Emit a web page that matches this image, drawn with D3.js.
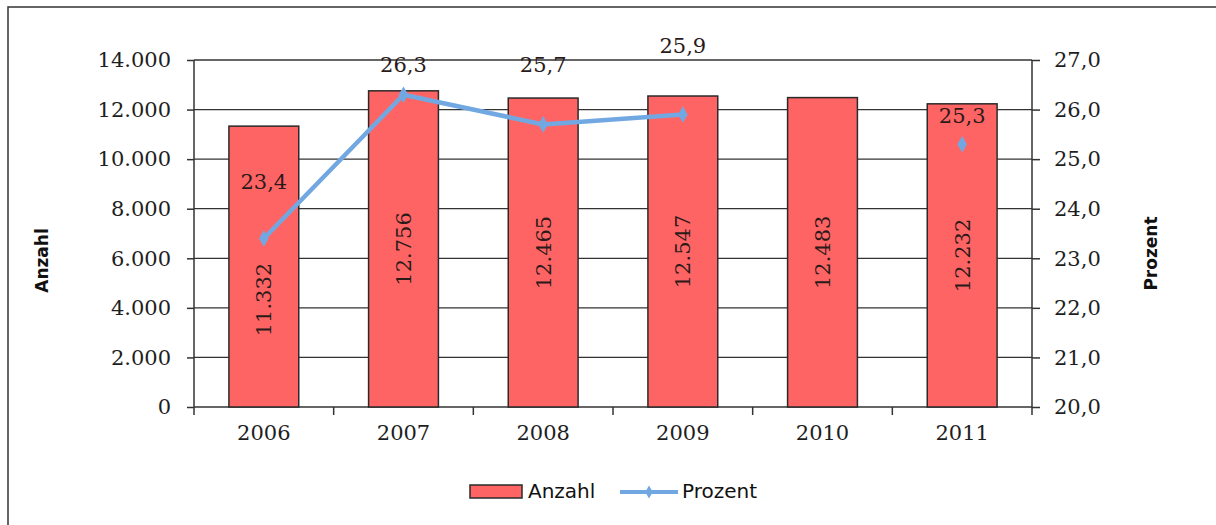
<!DOCTYPE html>
<html><head><meta charset="utf-8">
<script src="https://cdn.jsdelivr.net/npm/d3@7"></script>
<style>
html,body{margin:0;padding:0;background:#fff;}
svg{display:block;}
</style></head>
<body>
<svg id="chart" width="1216" height="525"></svg>
<script>
const years = ["2006","2007","2008","2009","2010","2011"];
const anzahl = [11332, 12756, 12465, 12547, 12483, 12232];
const prozent = [23.4, 26.3, 25.7, 25.9, null, 25.3];
const leftTicks = [0, 2000, 4000, 6000, 8000, 10000, 12000, 14000];
const rightTicks = [20, 21, 22, 23, 24, 25, 26, 27];
// label layout offsets (pixels) for the bar and percent labels
const barLabelShift = [33, 0, 0, 0, 0, 0];
const pctLabelShift = [-57, -30, -60, -69, 0, -29];

const svg = d3.select("#chart");
const W = 1216, H = 525;
const plot = {left: 194, right: 1032, top: 60, bottom: 407};
const serif = "'DejaVu Serif', serif";
const sans = "'DejaVu Sans', sans-serif";
const ink = "#1e1e1e";

// outer frame
svg.append("path").attr("d", `M8,${H} L8,7 L${W},7`).attr("fill","none").attr("stroke","#333").attr("stroke-width",1.5);

const x = d3.scaleBand().domain(years).range([plot.left, plot.right]).paddingInner(0).paddingOuter(0);
const y = d3.scaleLinear().domain([0, 14000]).range([plot.bottom, plot.top]);
const y2 = d3.scaleLinear().domain([20, 27]).range([plot.bottom, plot.top]);

// gridlines
svg.append("g").selectAll("line").data(leftTicks).join("line")
  .attr("x1", plot.left).attr("x2", plot.right)
  .attr("y1", d => y(d)).attr("y2", d => y(d))
  .attr("stroke", "#333").attr("stroke-width", 1.3);

// bars
const bw = x.bandwidth() * 0.5;
svg.append("g").selectAll("rect").data(anzahl).join("rect")
  .attr("x", (d,i) => x(years[i]) + (x.bandwidth() - bw)/2)
  .attr("y", d => y(d))
  .attr("width", bw)
  .attr("height", d => y(0) - y(d))
  .attr("fill", "#ff6464").attr("stroke", "#2a2a2a").attr("stroke-width", 1.5);

// left axis
const fmtDot = d => d3.format(",")(d).replace(/,/g, ".");
const gL = svg.append("g").attr("transform", `translate(${plot.left},0)`)
  .call(d3.axisLeft(y).tickValues(leftTicks).tickFormat(fmtDot).tickSize(7).tickPadding(16));
gL.select(".domain").remove();
gL.append("line").attr("x1",0).attr("x2",0).attr("y1",plot.top).attr("y2",plot.bottom).attr("stroke","#333").attr("stroke-width",1.5);
gL.selectAll(".tick line").attr("stroke","#333").attr("stroke-width",1.5);
gL.selectAll(".tick text").attr("font-family", serif).attr("font-size", 21).attr("fill", ink);

// right axis
const fmtComma = d => d3.format(".1f")(d).replace(".", ",");
const gR = svg.append("g").attr("transform", `translate(${plot.right},0)`)
  .call(d3.axisRight(y2).tickValues(rightTicks).tickFormat(fmtComma).tickSize(8).tickPadding(14));
gR.select(".domain").remove();
gR.append("line").attr("x1",0).attr("x2",0).attr("y1",plot.top).attr("y2",plot.bottom).attr("stroke","#333").attr("stroke-width",1.5);
gR.selectAll(".tick line").attr("stroke","#333").attr("stroke-width",1.5);
gR.selectAll(".tick text").attr("font-family", serif).attr("font-size", 21).attr("fill", ink);

// x axis
const gX = svg.append("g").attr("transform", `translate(0,${plot.bottom})`)
  .call(d3.axisBottom(x).tickSize(0).tickPadding(18));
gX.select(".domain").remove();
gX.selectAll(".tick text").attr("font-family", serif).attr("font-size", 21).attr("fill", ink);
const bounds = years.map(d => x(d)).concat([x.range()[1]]);
svg.append("g").selectAll("line").data(bounds).join("line")
  .attr("x1", d => d).attr("x2", d => d)
  .attr("y1", plot.bottom).attr("y2", plot.bottom + 8)
  .attr("stroke", "#333").attr("stroke-width", 1.5);

// bar value labels (rotated)
svg.append("g").selectAll("text").data(anzahl).join("text")
  .attr("transform", (d,i) => {
    const cx = x(years[i]) + x.bandwidth()/2;
    const cy = (y(d) + y(0))/2 + barLabelShift[i];
    return `translate(${cx},${cy}) rotate(-90)`;
  })
  .attr("text-anchor", "middle").attr("dy", "0.35em")
  .attr("font-family", serif).attr("font-size", 21).attr("fill", "#2a1a1a")
  .text(d => fmtDot(d));

// percent line
const lineColor = "#72a8e2";
const line = d3.line()
  .defined(d => d != null)
  .x((d,i) => x(years[i]) + x.bandwidth()/2)
  .y(d => y2(d));
svg.append("path").datum(prozent).attr("d", line)
  .attr("fill", "none").attr("stroke", lineColor).attr("stroke-width", 4.5).attr("stroke-linejoin", "round");
const pts = prozent.map((d,i) => ({v:d, i})).filter(p => p.v != null);
svg.append("g").selectAll("path").data(pts).join("path")
  .attr("transform", p => `translate(${x(years[p.i]) + x.bandwidth()/2},${y2(p.v)})`)
  .attr("d", d3.symbol(d3.symbolDiamond, 80))
  .attr("fill", lineColor);

// percent labels
svg.append("g").selectAll("text").data(pts).join("text")
  .attr("x", p => x(years[p.i]) + x.bandwidth()/2)
  .attr("y", p => y2(p.v) + pctLabelShift[p.i])
  .attr("text-anchor", "middle").attr("dy", "0.35em")
  .attr("font-family", serif).attr("font-size", 21).attr("fill", "#2a1a1a")
  .text(p => fmtComma(p.v));

// axis titles
svg.append("text").attr("transform", `translate(48,${(plot.top+plot.bottom)/2 + 27}) rotate(-90)`)
  .attr("text-anchor","middle").attr("font-family", sans).attr("font-weight","bold").attr("font-size",17).attr("fill","#111")
  .text("Anzahl");
svg.append("text").attr("transform", `translate(1157,${(plot.top+plot.bottom)/2 + 20}) rotate(-90)`)
  .attr("text-anchor","middle").attr("font-family", sans).attr("font-weight","bold").attr("font-size",17).attr("fill","#111")
  .text("Prozent");

// legend
const leg = svg.append("g").attr("transform", "translate(470,498)");
leg.append("rect").attr("x",0).attr("y",-13).attr("width",52).attr("height",13)
  .attr("fill","#ff6464").attr("stroke","#2a2a2a").attr("stroke-width",1.5);
leg.append("text").attr("x",58).attr("y",0).attr("font-family",sans).attr("font-size",20).attr("fill","#111").text("Anzahl");
leg.append("line").attr("x1",150).attr("x2",208).attr("y1",-6).attr("y2",-6).attr("stroke",lineColor).attr("stroke-width",4);
leg.append("path").attr("transform","translate(179,-6)").attr("d", d3.symbol(d3.symbolDiamond, 50)).attr("fill",lineColor);
leg.append("text").attr("x",212).attr("y",0).attr("font-family",sans).attr("font-size",20).attr("fill","#111").text("Prozent");
</script>
</body></html>
